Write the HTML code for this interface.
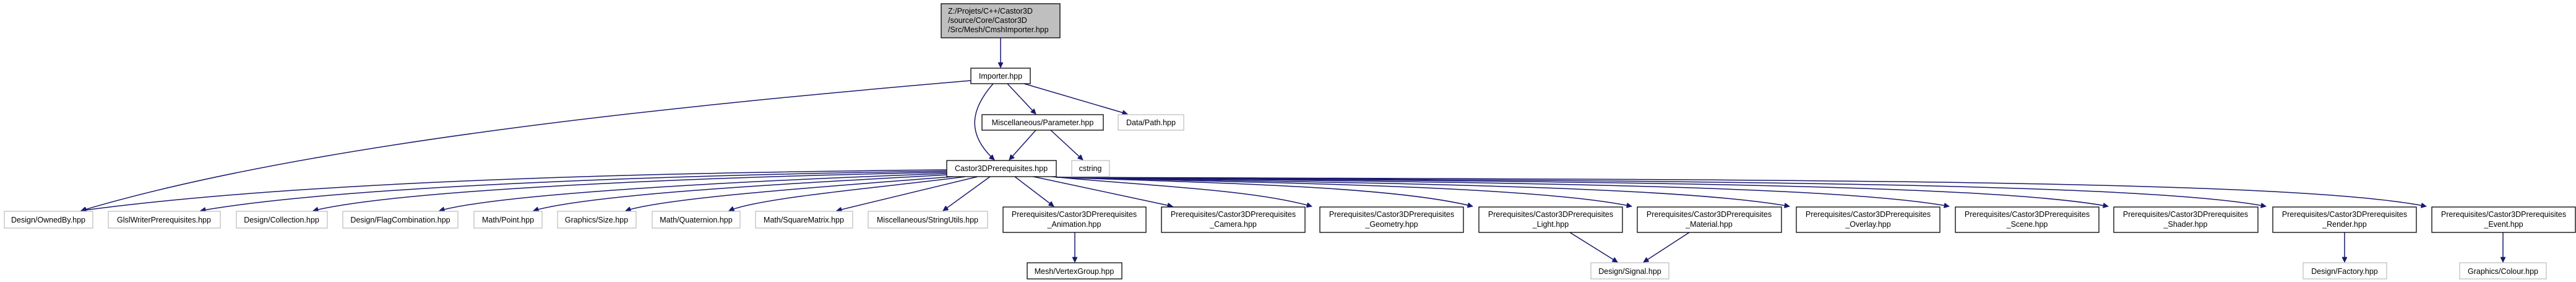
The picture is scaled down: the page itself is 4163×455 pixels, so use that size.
<!DOCTYPE html>
<html><head><meta charset="utf-8"><style>
html,body{margin:0;padding:0;background:#fff;}
svg{display:block;}
text{font-family:"Liberation Sans",Arial,sans-serif;font-size:12.5px;fill:#000;}
.e{fill:none;stroke:#191970;stroke-width:1.5;}
.b{fill:#fff;stroke:#000;stroke-width:1.3;}
.g{fill:#fff;stroke:#bfbfbf;stroke-width:1.3;}
</style></head><body>
<svg width="4163" height="455" viewBox="0 0 4163 455" xmlns="http://www.w3.org/2000/svg">
<defs><marker id="a" viewBox="0 0 10 10" refX="10" refY="5" markerWidth="10" markerHeight="8" markerUnits="userSpaceOnUse" orient="auto"><path d="M0,0 L10,5 L0,10 z" fill="#191970" stroke="#191970"/></marker></defs>

<g class="e" marker-end="url(#a)">
<path d="M1617,61 L1617,109"/>
<path d="M1569,130 C1100,170 500,230 131,340"/>
<path d="M1605,135 C1570,175 1560,215 1607,258"/>
<path d="M1628,135 L1674,184"/>
<path d="M1655,135 L1822,184"/>
<path d="M1674,210 L1631,258"/>
<path d="M1698,210 L1750,258"/>

<path d="M1530,274 C1100,278 500,290 131,340"/>
<path d="M1530,276 C1100,282 550,300 324,340"/>
<path d="M1530,278 C1150,285 650,305 506,340"/>
<path d="M1530,280 C1250,290 820,310 710,340"/>
<path d="M1532,282 C1300,295 960,312 862,340"/>
<path d="M1540,285 C1350,300 1080,318 1011,340"/>
<path d="M1560,285 C1450,300 1230,318 1178,340"/>
<path d="M1580,285 L1352,340"/>
<path d="M1600,285 L1524,340"/>
<path d="M1640,285 L1703,333"/>
<path d="M1670,285 L1895,333"/>
<path d="M1700,285 C1850,300 2020,305 2120,333"/>
<path d="M1707,286 C1950,295 2250,300 2380,333"/>
<path d="M1707,286 C2050,295 2480,300 2637,333"/>
<path d="M1707,286 C2150,295 2700,298 2892,333"/>
<path d="M1707,286 C2300,294 2950,296 3150,333"/>
<path d="M1707,286 C2450,293 3200,294 3407,333"/>
<path d="M1707,286 C2600,292 3450,292 3662,333"/>
<path d="M1707,286 C2800,290 3700,288 3921,333"/>

<path d="M1737,375 L1737,423"/>
<path d="M2537,375 L2614,423"/>
<path d="M2730,375 L2656,423"/>
<path d="M3789,375 L3789,423"/>
<path d="M4045,375 L4045,423"/>
</g>

<rect x="1521" y="6" width="192" height="55" fill="#bfbfbf" stroke="#000" stroke-width="1.3"/>
<text x="1532" y="22">Z:/Projets/C++/Castor3D</text>
<text x="1532" y="37">/source/Core/Castor3D</text>
<text x="1532" y="52">/Src/Mesh/CmshImporter.hpp</text>

<rect class="b" x="1569" y="110" width="96" height="25"/><text x="1617" y="127" text-anchor="middle">Importer.hpp</text>
<rect class="b" x="1587" y="185" width="196" height="25"/><text x="1685" y="202" text-anchor="middle">Miscellaneous/Parameter.hpp</text>
<rect class="g" x="1807" y="185" width="106" height="25"/><text x="1860" y="202" text-anchor="middle">Data/Path.hpp</text>
<rect class="b" x="1530" y="259" width="177" height="26"/><text x="1618" y="276" text-anchor="middle">Castor3DPrerequisites.hpp</text>
<rect class="g" x="1732" y="259" width="61" height="26"/><text x="1762" y="276" text-anchor="middle">cstring</text>

<g text-anchor="middle">
<rect class="g" x="7" y="341" width="143" height="27"/><text x="78" y="359">Design/OwnedBy.hpp</text>
<rect class="g" x="175" y="341" width="181" height="27"/><text x="265" y="359">GlslWriterPrerequisites.hpp</text>
<rect class="g" x="382" y="341" width="147" height="27"/><text x="455" y="359">Design/Collection.hpp</text>
<rect class="g" x="554" y="341" width="186" height="27"/><text x="647" y="359">Design/FlagCombination.hpp</text>
<rect class="g" x="766" y="341" width="110" height="27"/><text x="821" y="359">Math/Point.hpp</text>
<rect class="g" x="901" y="341" width="127" height="27"/><text x="964" y="359">Graphics/Size.hpp</text>
<rect class="g" x="1054" y="341" width="142" height="27"/><text x="1125" y="359">Math/Quaternion.hpp</text>
<rect class="g" x="1221" y="341" width="157" height="27"/><text x="1299" y="359">Math/SquareMatrix.hpp</text>
<rect class="g" x="1403" y="341" width="193" height="27"/><text x="1499" y="359">Miscellaneous/StringUtils.hpp</text>

<rect class="b" x="1621" y="334" width="231" height="41"/><text x="1736" y="350">Prerequisites/Castor3DPrerequisites</text><text x="1736" y="366">_Animation.hpp</text>
<rect class="b" x="1877" y="334" width="232" height="41"/><text x="1993" y="350">Prerequisites/Castor3DPrerequisites</text><text x="1993" y="366">_Camera.hpp</text>
<rect class="b" x="2133" y="334" width="232" height="41"/><text x="2249" y="350">Prerequisites/Castor3DPrerequisites</text><text x="2249" y="366">_Geometry.hpp</text>
<rect class="b" x="2390" y="334" width="232" height="41"/><text x="2506" y="350">Prerequisites/Castor3DPrerequisites</text><text x="2506" y="366">_Light.hpp</text>
<rect class="b" x="2646" y="334" width="233" height="41"/><text x="2762" y="350">Prerequisites/Castor3DPrerequisites</text><text x="2762" y="366">_Material.hpp</text>
<rect class="b" x="2903" y="334" width="232" height="41"/><text x="3019" y="350">Prerequisites/Castor3DPrerequisites</text><text x="3019" y="366">_Overlay.hpp</text>
<rect class="b" x="3160" y="334" width="232" height="41"/><text x="3276" y="350">Prerequisites/Castor3DPrerequisites</text><text x="3276" y="366">_Scene.hpp</text>
<rect class="b" x="3416" y="334" width="233" height="41"/><text x="3532" y="350">Prerequisites/Castor3DPrerequisites</text><text x="3532" y="366">_Shader.hpp</text>
<rect class="b" x="3673" y="334" width="232" height="41"/><text x="3789" y="350">Prerequisites/Castor3DPrerequisites</text><text x="3789" y="366">_Render.hpp</text>
<rect class="b" x="3930" y="334" width="232" height="41"/><text x="4046" y="350">Prerequisites/Castor3DPrerequisites</text><text x="4046" y="366">_Event.hpp</text>

<rect class="b" x="1660" y="424" width="153" height="26"/><text x="1736" y="442">Mesh/VertexGroup.hpp</text>
<rect class="g" x="2571" y="424" width="126" height="26"/><text x="2634" y="442">Design/Signal.hpp</text>
<rect class="g" x="3722" y="424" width="135" height="26"/><text x="3789" y="442">Design/Factory.hpp</text>
<rect class="g" x="3975" y="424" width="140" height="26"/><text x="4045" y="442">Graphics/Colour.hpp</text>
</g>
</svg>
</body></html>
